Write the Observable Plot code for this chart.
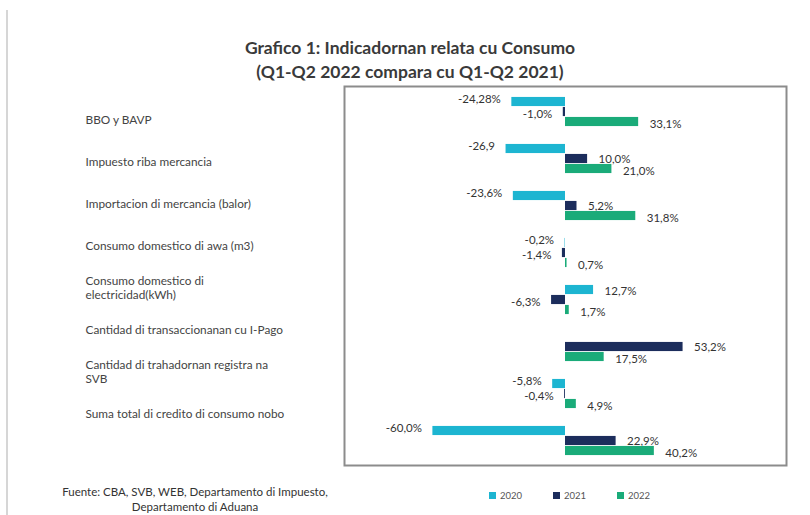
<!DOCTYPE html>
<html>
<head>
<meta charset="utf-8">
<script src="https://cdn.jsdelivr.net/npm/d3@7"></script>
<script src="https://cdn.jsdelivr.net/npm/@observablehq/plot@0.6"></script>
<style>
  html, body { margin: 0; padding: 0; background: #fff; }
  #wrap { position: relative; width: 810px; height: 515px; overflow: hidden; font-family: Lato, "Open Sans", sans-serif; }
  #wrap svg { position: absolute; left: 0; top: 0; }
  .pageline { position: absolute; left: 6px; top: 10px; width: 2px; height: 505px; background: #d6d6d6; }
  .title { position: absolute; left: 0; width: 820px; top: 36px; text-align: center; font-size: 17.5px; font-weight: 700; color: #3a3a3a; line-height: 24px; }
  .caption { position: absolute; left: 40px; width: 310px; top: 484px; text-align: center; font-size: 11.5px; color: #333; line-height: 15px; }
  .legend { position: absolute; top: 490px; left: 489px; font-size: 9.5px; color: #555; display: flex; gap: 0; }
  .legend span.item { display: inline-flex; align-items: center; width: 64px; }
  .legend span.sw { display: inline-block; width: 7px; height: 7px; margin-right: 4px; }
</style>
</head>
<body>
<div id="wrap">
  <div class="pageline"></div>
  <div class="title">Grafico 1: Indicadornan relata cu Consumo<br>(Q1-Q2 2022 compara cu Q1-Q2 2021)</div>
  <div class="caption">Fuente: CBA, SVB, WEB, Departamento di Impuesto,<br>Departamento di Aduana</div>
  <div class="legend" id="legend"></div>
</div>
<script>
const categories = [
  "BBO y BAVP",
  "Impuesto riba mercancia",
  "Importacion di mercancia (balor)",
  "Consumo domestico di awa (m3)",
  "Consumo domestico di\nelectricidad(kWh)",
  "Cantidad di transaccionanan cu I-Pago",
  "Cantidad di trahadornan registra na\nSVB",
  "Suma total di credito di consumo nobo"
];
const series = ["2020", "2021", "2022"];
const v2020 = [-24.28, -26.9, -23.6, -0.2, 12.7, null, -5.8, -60.0];
const v2021 = [-1.0, 10.0, 5.2, -1.4, -6.3, 53.2, -0.4, 22.9];
const v2022 = [33.1, 21.0, 31.8, 0.7, 1.7, 17.5, 4.9, 40.2];
const t2020 = ["-24,28%", "-26,9", "-23,6%", "-0,2%", "12,7%", "", "-5,8%", "-60,0%"];
const t2021 = ["-1,0%", "10,0%", "5,2%", "-1,4%", "-6,3%", "53,2%", "-0,4%", "22,9%"];
const t2022 = ["33,1%", "21,0%", "31,8%", "0,7%", "1,7%", "17,5%", "4,9%", "40,2%"];
const colors = ["#1db5d1", "#1c2d5c", "#1aab79"];
const xDomain = [-100, 100];

const values = [v2020, v2021, v2022];
const texts = [t2020, t2021, t2022];

const W = 810, H = 515;
const M = {top: 86, bottom: 50, left: 344, right: 24};
const band = (H - M.top - M.bottom) / categories.length;
const barH = 9.5, step = 10;
const base = (band - barH) / 2;
// label nudges (per series) for negative / positive labels
const negNudge = [-3, 2, 2];
const posNudge = [1, 0, 2];

const marks = [];
series.forEach((s, i) => {
  const rows = categories.map((c, j) => ({category: c, value: values[i][j], label: texts[i][j]}))
    .filter(d => d.value != null);
  const off = (i - 1) * step;
  marks.push(Plot.barX(rows, {
    x: "value", y: "category", fill: colors[i],
    insetTop: base + off, insetBottom: base - off
  }));
  marks.push(Plot.text(rows.filter(d => d.value >= 0), {
    x: "value", y: "category", text: "label", textAnchor: "start",
    dx: 11, dy: off + posNudge[i], fill: "#333", fontSize: 11.5
  }));
  marks.push(Plot.text(rows.filter(d => d.value < 0), {
    x: "value", y: "category", text: "label", textAnchor: "end",
    dx: -11, dy: off + negNudge[i], fill: "#333", fontSize: 11.5
  }));
});
marks.push(Plot.frame({stroke: "#8c8c8c", strokeWidth: 2}));

const chart = Plot.plot({
  width: W, height: H,
  marginTop: M.top, marginBottom: M.bottom, marginLeft: M.left, marginRight: M.right,
  style: {background: "transparent", fontFamily: "Lato, 'Open Sans', sans-serif"},
  x: {domain: xDomain, axis: null},
  y: {domain: categories, type: "band", padding: 0, axis: null},
  marks
});

const labels = Plot.plot({
  width: 340, height: H,
  marginTop: 117, marginBottom: 100, marginLeft: 85, marginRight: 0,
  style: {background: "transparent", fontFamily: "Lato, 'Open Sans', sans-serif"},
  x: {axis: null},
  y: {domain: categories, type: "point", padding: 0, axis: null},
  marks: [
    Plot.text(categories, {y: d => d, text: d => d, frameAnchor: "left", textAnchor: "start", fontSize: 11.8, fill: "#444", lineHeight: 1.15})
  ]
});

const wrap = document.getElementById("wrap");
wrap.appendChild(chart);
wrap.appendChild(labels);

const legend = document.getElementById("legend");
series.forEach((s, i) => {
  const item = document.createElement("span");
  item.className = "item";
  const sw = document.createElement("span");
  sw.className = "sw";
  sw.style.background = colors[i];
  item.appendChild(sw);
  item.appendChild(document.createTextNode(s));
  legend.appendChild(item);
});
</script>
</body>
</html>
